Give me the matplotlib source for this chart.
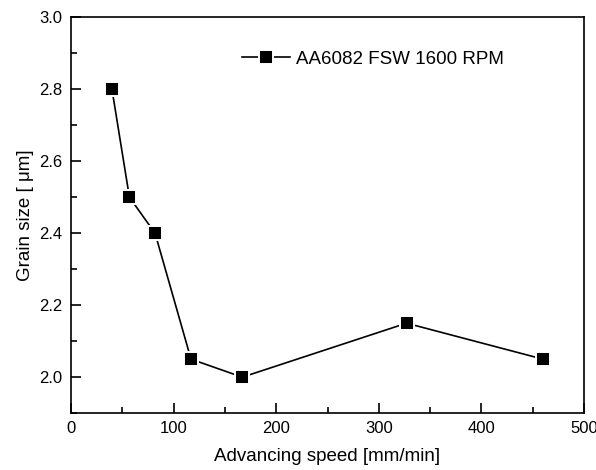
import matplotlib
matplotlib.use("Agg")
import matplotlib.pyplot as plt
from matplotlib.ticker import MultipleLocator

plt.rcParams["font.family"] = ["Liberation Sans", "DejaVu Sans"]

# values
speed = [40, 57, 82, 117, 167, 327, 460]
grain_size = [2.8, 2.5, 2.4, 2.05, 2.0, 2.15, 2.05]
series_label = "AA6082 FSW 1600 RPM"

fig = plt.figure(figsize=(5.96, 4.70), dpi=100)
ax = fig.add_axes([0.119, 0.121, 0.861, 0.842])

ax.plot(speed, grain_size, color="black", lw=1.2, marker="s", markersize=10,
        markerfacecolor="black", markeredgecolor="white", markeredgewidth=1.4,
        label=series_label)

ax.set_xlim(0, 500)
ax.set_ylim(1.9, 3.0)
ax.xaxis.set_major_locator(MultipleLocator(100))
ax.xaxis.set_minor_locator(MultipleLocator(50))
ax.yaxis.set_major_locator(MultipleLocator(0.2))
ax.yaxis.set_minor_locator(MultipleLocator(0.1))
ax.yaxis.set_major_formatter(matplotlib.ticker.FormatStrFormatter("%.1f"))
ax.tick_params(which="both", direction="in", top=False, right=False,
               labelsize=12, width=1.2)
ax.tick_params(which="major", length=7, pad=6)
ax.tick_params(which="minor", length=4)
for s in ax.spines.values():
    s.set_linewidth(1.2)

ax.set_xlabel("Advancing speed [mm/min]", fontsize=13.5, labelpad=8)
ax.set_ylabel("Grain size [ \u03bcm]", fontsize=13.5, labelpad=4)

ax.legend(loc="center left", bbox_to_anchor=(0.30, 0.895), frameon=False,
          fontsize=13.5, handlelength=2.6, handletextpad=0.3)

fig.savefig("out.png", dpi=100)
